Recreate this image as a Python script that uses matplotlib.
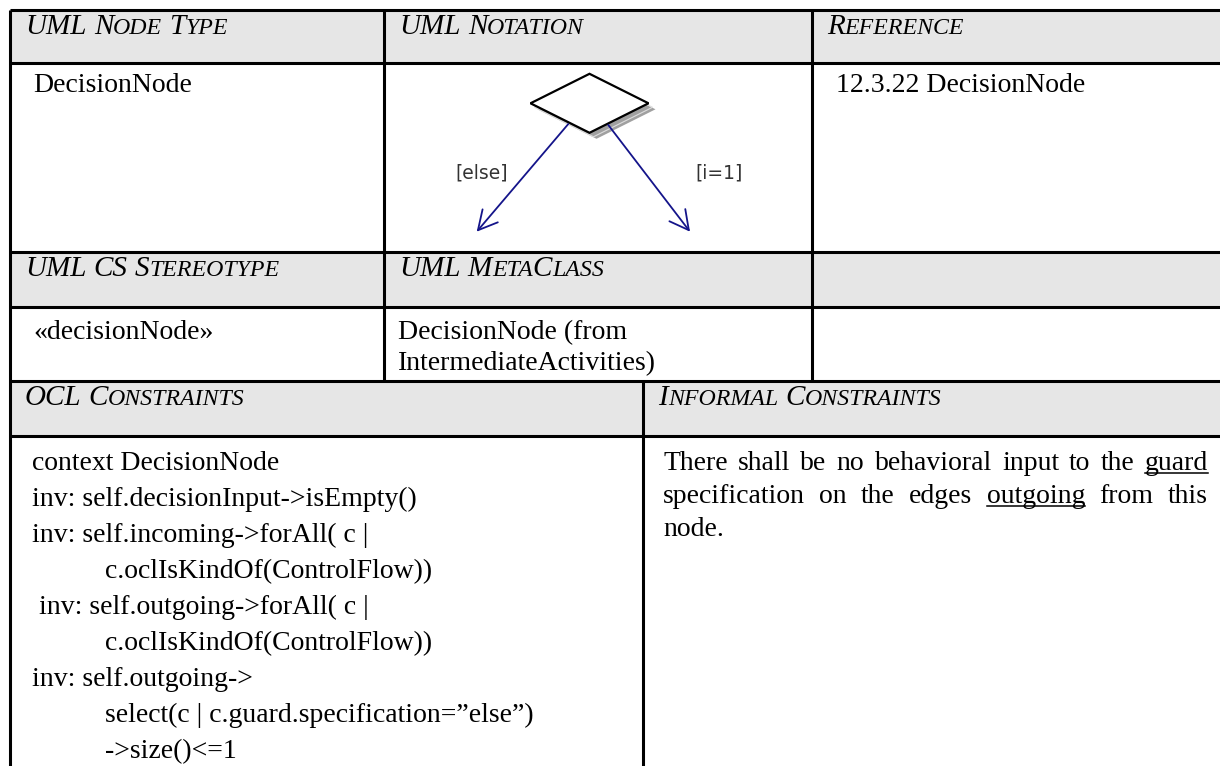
import matplotlib
matplotlib.use('Agg')
import matplotlib.pyplot as plt
from matplotlib.patches import Polygon, Rectangle

# table text
head_row1 = ['UML Node Type', 'UML Notation', 'Reference']
body_row2 = ['DecisionNode', '', '12.3.22 DecisionNode']
head_row3 = ['UML CS Stereotype', 'UML MetaClass', '']
body_row4 = [['«decisionNode»'], ['DecisionNode (from', 'IntermediateActivities)'], []]
head_row5 = ['OCL Constraints', 'Informal Constraints']

ocl_lines = ['context DecisionNode',
             'inv: self.decisionInput->isEmpty()',
             'inv: self.incoming->forAll( c |',
             'c.oclIsKindOf(ControlFlow))',
             ' inv: self.outgoing->forAll( c |',
             'c.oclIsKindOf(ControlFlow))',
             'inv: self.outgoing->',
             'select(c | c.guard.specification=\u201delse\u201d)',
             '->size()<=1']
ocl_indent = [0, 0, 0, 1, 0, 1, 0, 1, 1]

informal_lines = [['There', 'shall', 'be', 'no', 'behavioral', 'input', 'to', 'the', 'guard'],
                  ['specification', 'on', 'the', 'edges', 'outgoing', 'from', 'this'],
                  ['node.']]
underlined = ['guard', 'outgoing']

guards = ['[else]', '[i=1]']

# layout (pixels)
W, H = 1220, 766
row_y = [10, 63, 252, 307, 381, 436]
top_cols = [10, 384, 812]
top_pad = [23, 14, 24]
low_cols = [10, 643]
right = 1220
HEAD_GRAY = '#e6e6e6'
SERIF = 'Liberation Serif'
BODY = 20
HEAD = 21
SC = 0.82
LEAD = 31.5
OCL_LEAD = 36
INF_LEAD = 33
HEAD_PAD = 15

fig = plt.figure(figsize=(W / 100, H / 100), dpi=100)
ax = fig.add_axes([0, 0, 1, 1])
ax.set_xlim(0, W)
ax.set_ylim(H, 0)
ax.axis('off')
renderer = fig.canvas.get_renderer()


def width_of(t):
    return t.get_window_extent(renderer).width


def space_w(size, style='normal'):
    a = ax.text(0, -100, 'aa', fontsize=size, family=SERIF, style=style)
    b = ax.text(0, -100, 'a a', fontsize=size, family=SERIF, style=style)
    w = width_of(b) - width_of(a)
    a.remove()
    b.remove()
    return w


def small_caps(x, y, s):
    # fake small caps: lower case letters drawn as smaller capitals
    sp = space_w(HEAD, 'italic')
    for word in s.split(' '):
        runs = []
        for ch in word:
            small = ch.islower()
            if runs and runs[-1][1] == small:
                runs[-1][0] += ch
            else:
                runs.append([ch, small])
        for txt, small in runs:
            t = ax.text(x, y, txt.upper(), fontsize=HEAD * SC if small else HEAD,
                        family=SERIF, style='italic', va='baseline', ha='left')
            x += width_of(t)
        x += sp


def body(x, y, s):
    return ax.text(x, y, s, fontsize=BODY, family=SERIF, va='baseline', ha='left')


# header fills
for i in (0, 2, 4):
    ax.add_patch(Rectangle((10, row_y[i]), right - 10, row_y[i + 1] - row_y[i],
                           facecolor=HEAD_GRAY, edgecolor='none'))

# header texts
for x0, s in zip(top_cols, head_row1):
    small_caps(x0 + HEAD_PAD, row_y[0] + 24, s)
for x0, s in zip(top_cols, head_row3):
    if s:
        small_caps(x0 + HEAD_PAD, row_y[2] + 24, s)
for x0, s in zip(low_cols, head_row5):
    small_caps(x0 + HEAD_PAD, row_y[4] + 24, s)

# body cells
for x0, pad, s in zip(top_cols, top_pad, body_row2):
    if s:
        body(x0 + pad, row_y[1] + 29, s)
for x0, pad, lines in zip(top_cols, top_pad, body_row4):
    for k, s in enumerate(lines):
        body(x0 + pad, row_y[3] + 32 + k * LEAD, s)

for k, (s, ind) in enumerate(zip(ocl_lines, ocl_indent)):
    body(low_cols[0] + 22 + ind * 73, row_y[5] + 34 + k * OCL_LEAD, s)

# justified informal text
jx0, jx1 = low_cols[1] + 20, 1208
sp = space_w(BODY)
for k, words in enumerate(informal_lines):
    y = row_y[5] + 34 + k * INF_LEAD
    texts = [body(0, y, w) for w in words]
    widths = [width_of(t) for t in texts]
    last = k == len(informal_lines) - 1
    gap = sp if (last or len(words) < 2) else (jx1 - jx0 - sum(widths)) / (len(words) - 1)
    x = jx0
    for t, w, word in zip(texts, widths, words):
        t.set_x(x)
        if word in underlined:
            ax.plot([x, x + w], [y + 3, y + 3], color='black', lw=1.1)
        x += w + gap

# decision node diagram
cx, cy, hw, hh = 589.5, 103.3, 59, 29.5
shape = [(cx - hw, cy), (cx, cy - hh), (cx + hw, cy), (cx, cy + hh)]
ax.add_patch(Polygon([(px + 7, py + 6) for px, py in shape], closed=True,
                     facecolor='#a0a0a0', edgecolor='none'))
ax.add_patch(Polygon([(px + 4, py + 4) for px, py in shape], closed=True,
                     facecolor='none', edgecolor='#dcdcdc', lw=0.8))
ax.add_patch(Polygon(shape, closed=True, facecolor='white', edgecolor='black', lw=1.6))

flows = [((568.3, 124.0), (476.7, 231.7)), ((608.3, 125.0), (690.0, 231.7))]
for (p0, p1) in flows:
    ax.annotate('', xy=p1, xytext=p0,
                arrowprops=dict(arrowstyle='->,head_length=0.68,head_width=0.36',
                                mutation_scale=20, color='#14148a', lw=1.3,
                                shrinkA=0, shrinkB=0))
for (x, s) in zip([455, 695], guards):
    ax.text(x, 173, s, fontsize=13.5, family='DejaVu Sans', color='#333333',
            va='center', ha='left')

# grid lines
LW = 2.2
for y in row_y:
    ax.plot([10, right], [y, y], color='black', lw=LW, solid_capstyle='butt')
ax.plot([10, 10], [row_y[0], H], color='black', lw=LW, solid_capstyle='butt')
for x in top_cols[1:]:
    ax.plot([x, x], [row_y[0], row_y[4]], color='black', lw=LW, solid_capstyle='butt')
ax.plot([low_cols[1], low_cols[1]], [row_y[4], H], color='black', lw=LW, solid_capstyle='butt')

fig.savefig('out.png', dpi=100)
